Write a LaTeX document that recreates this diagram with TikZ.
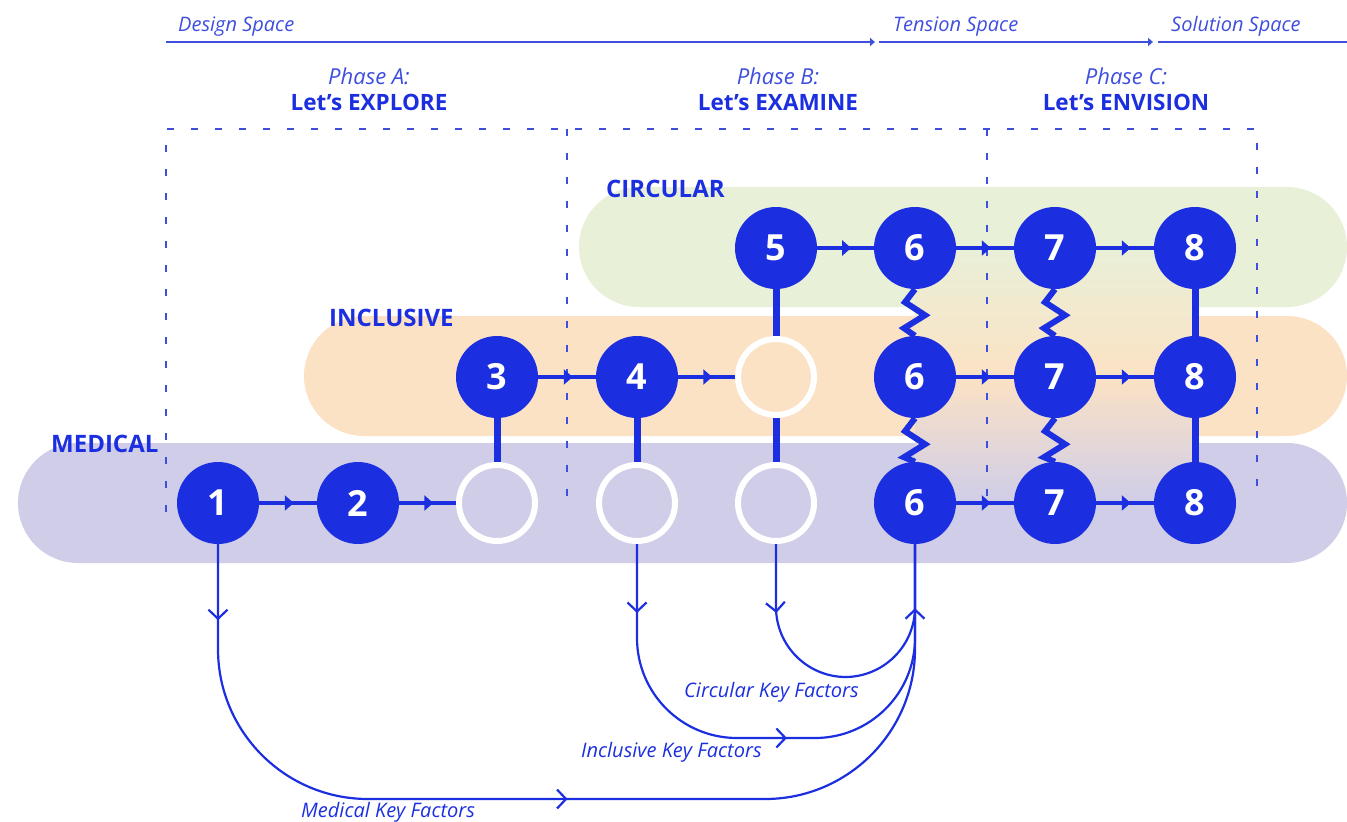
\documentclass[tikz,border=0pt]{standalone}
\usepackage{fontspec}
\setmainfont{Open Sans}
\usetikzlibrary{arrows.meta,decorations.markings}

\definecolor{ink}{RGB}{28,47,224}
\definecolor{paleink}{RGB}{62,78,222}
\definecolor{greenband}{RGB}{232,240,216}
\definecolor{orangeband}{RGB}{252,226,196}
\definecolor{purpleband}{RGB}{207,205,232}

\newcommand{\keybarb}{\arrow{Straight Barb[length=9pt,width=19pt]}}

\tikzset{
    num/.style={circle, fill=ink, text=white, minimum size=82pt, inner sep=0pt,
        font=\fontsize{36}{36}\selectfont\bfseries},
    hole/.style={circle, draw=white, line width=6pt, minimum size=76pt, inner sep=0pt},
    flow/.style={draw=ink, line width=3.5pt, postaction={decorate},
        decoration={markings, mark=at position 0.6 with {\arrow{Triangle[length=9pt,width=15pt]}}}},
    tie/.style={draw=ink, line width=7pt},
    kink/.style={draw=ink, line width=6pt,
        to path={-- ++(-10,13) -- ++(20,13) -- ++(-21,13) -- (\tikztotarget)}},
    keyline/.style={draw=ink, line width=2.2pt, postaction={decorate}},
    guide/.style={draw=paleink, line width=2pt, dash pattern=on 7pt off 17pt},
    spaceline/.style={draw=paleink, line width=1.8pt},
    spacetext/.style={anchor=base west, inner sep=0pt, text=paleink,
        font=\fontsize{20}{20}\selectfont\itshape},
    phasetext/.style={anchor=base, inner sep=0pt, text=paleink,
        font=\fontsize{22}{24}\selectfont\itshape},
    phasename/.style={anchor=base, inner sep=0pt, text=ink,
        font=\fontsize{22.5}{24}\selectfont\bfseries},
    bandname/.style={anchor=base west, inner sep=0pt, text=ink,
        font=\fontsize{24}{24}\selectfont\bfseries},
    keytext/.style={anchor=base west, inner sep=0pt, text=ink,
        font=\fontsize{20}{20}\selectfont\itshape},
}

\begin{document}
\begin{tikzpicture}[x=1pt, y=-1pt]
    \useasboundingbox (0,0) rectangle (1347,822);

    % the three bands, and the blend where they meet
    \fill[greenband, rounded corners=60pt] (579,187) rectangle (1347,307);
    \fill[orangeband, rounded corners=60pt] (304,316) rectangle (1347,436);
    \fill[purpleband, rounded corners=60pt] (18,443) rectangle (1347,563);
    \shade[top color=greenband, bottom color=purpleband, middle color=orangeband]
        (915,248) rectangle (1195,503);

    % phase frames
    \draw[guide] (166,512) -- (166,129) -- (1257,129) -- (1257,501);
    \draw[guide] (567,129) -- (567,503);
    \draw[guide] (987,129) -- (987,501);

    % spaces along the top
    \node[spacetext] (DS) at (178,31) {Design Space};
    \node[spacetext] (TS) at (893,31) {Tension Space};
    \node[spacetext] (SS) at (1171,31) {Solution Space};
    \coordinate (D0) at (166,42);
    \coordinate (D1) at (875,42);
    \coordinate (T0) at (879,42);
    \coordinate (T1) at (1153,42);
    \coordinate (S0) at (1158,42);
    \coordinate (S1) at (1347,42);
    \draw[spaceline, -{Triangle[length=5pt,width=8pt]}] (D0) -- (D1);
    \draw[spaceline, -{Triangle[length=5pt,width=8pt]}] (T0) -- (T1);
    \draw[spaceline] (S0) -- (S1);

    \node[phasetext] (PA) at (369,84) {Phase A:};
    \node[phasename] (LA) at (369,110) {Let’s EXPLORE};
    \node[phasetext] (PB) at (778,84) {Phase B:};
    \node[phasename] (LB) at (778,110) {Let’s EXAMINE};
    \node[phasetext] (PC) at (1126,84) {Phase C:};
    \node[phasename] (LC) at (1126,110) {Let’s ENVISION};

    \node[bandname] (CIR) at (606,197) {CIRCULAR};
    \node[bandname] (INC) at (329,326) {INCLUSIVE};
    \node[bandname] (MED) at (51,452) {MEDICAL};

    % steps
    \node[num] (M1) at (218,503) {1};
    \node[num] (M2) at (358,503) {2};
    \node[hole] (M3) at (497,503) {};
    \node[hole] (M4) at (637,503) {};
    \node[hole] (M5) at (776,503) {};
    \node[num] (M6) at (915,503) {6};
    \node[num] (M7) at (1055,503) {7};
    \node[num] (M8) at (1195,503) {8};

    \node[num] (I3) at (497,377) {3};
    \node[num] (I4) at (637,377) {4};
    \node[hole] (I5) at (776,377) {};
    \node[num] (I6) at (915,377) {6};
    \node[num] (I7) at (1055,377) {7};
    \node[num] (I8) at (1195,377) {8};

    \node[num] (C5) at (776,248) {5};
    \node[num] (C6) at (915,248) {6};
    \node[num] (C7) at (1055,248) {7};
    \node[num] (C8) at (1195,248) {8};

    \draw[flow] (M1) -- (M2);
    \draw[flow] (M2) -- (M3);
    \draw[flow] (M6) -- (M7);
    \draw[flow] (M7) -- (M8);
    \draw[flow] (I3) -- (I4);
    \draw[flow] (I4) -- (I5);
    \draw[flow] (I6) -- (I7);
    \draw[flow] (I7) -- (I8);
    \draw[flow] (C5) -- (C6);
    \draw[flow] (C6) -- (C7);
    \draw[flow] (C7) -- (C8);

    \draw[tie] (I3) -- (M3);
    \draw[tie] (I4) -- (M4);
    \draw[tie] (C5) -- (I5);
    \draw[tie] (I5) -- (M5);
    \draw[tie] (C8) -- (I8) -- (M8);

    \draw[kink] (C6.south) to (I6.north);
    \draw[kink] (I6.south) to (M6.north);
    \draw[kink] (C7.south) to (I7.north);
    \draw[kink] (I7.south) to (M7.north);

    % key factors flowing back into 6
    \coordinate (MB) at (560,799);
    \coordinate (IB) at (700,738);
    \coordinate (CB) at (846,677);
    \draw[keyline, rounded corners=150pt, decoration={markings,
        mark=at position 76pt with {\keybarb},
        mark=at position 540pt with {\keybarb},
        mark=at position -64pt with {\keybarb}}]
        (M1.south) -- (M1.south |- MB) -- (M6.south |- MB) -- (M6.south);
    \draw[keyline, rounded corners=100pt, decoration={markings,
        mark=at position 69pt with {\keybarb},
        mark=at position 301pt with {\keybarb}}]
        (M4.south) -- (M4.south |- IB) -- (M6.south |- IB) -- (M6.south);
    \draw[keyline, rounded corners=69.9pt, decoration={markings,
        mark=at position 69pt with {\keybarb}}]
        (M5.south) -- (M5.south |- CB) -- (M6.south |- CB) -- (M6.south);

    \node[keytext] (CK) at (684,697) {Circular Key Factors};
    \node[keytext] (IK) at (581,757) {Inclusive Key Factors};
    \node[keytext] (MK) at (301,817) {Medical Key Factors};
\end{tikzpicture}
\end{document}
